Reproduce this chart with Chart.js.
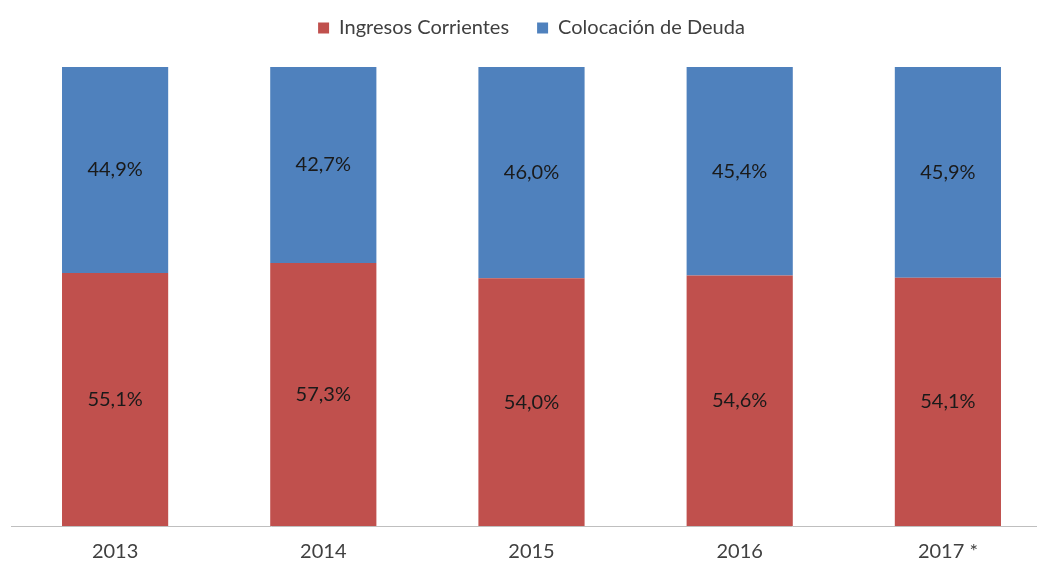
<!DOCTYPE html>
<html lang="es">
<head>
  <meta charset="UTF-8" />
  <title>Ingresos Corrientes vs Colocación de Deuda</title>
  <script src="https://cdn.jsdelivr.net/npm/chart.js"></script>
  <style>
    html, body {
      margin: 0;
      padding: 0;
      background: #fff;
      overflow: hidden;
    }
    .chart-wrap {
      width: 1052px;
      height: 567px;
      position: relative;
    }
  </style>
</head>
<body>
  <div class="chart-wrap">
    <canvas id="chart"></canvas>
  </div>

  <script>
    const years = ['2013', '2014', '2015', '2016', '2017 *'];
    const ingresos = [55.1, 57.3, 54.0, 54.6, 54.1];
    const deuda = [44.9, 42.7, 46.0, 45.4, 45.9];

    const FONT = 'Lato, "Open Sans", sans-serif';

    // draws the percentage in the middle of every bar segment
    const segmentLabels = {
      id: 'segmentLabels',
      afterDatasetsDraw(chart) {
        const ctx = chart.ctx;
        ctx.save();
        ctx.font = '20px ' + FONT;
        ctx.fillStyle = '#1a1a1a';
        ctx.textAlign = 'center';
        ctx.textBaseline = 'middle';
        chart.data.datasets.forEach((ds, i) => {
          chart.getDatasetMeta(i).data.forEach((bar, j) => {
            const mid = (bar.y + bar.base) / 2;
            const txt = ds.data[j].toFixed(1).replace('.', ',') + '%';
            ctx.fillText(txt, bar.x, mid);
          });
        });
        ctx.restore();
      }
    };

    // give the legend a fixed block height so the bars start lower
    const legendSpace = {
      id: 'legendSpace',
      beforeInit(chart) {
        const fit = chart.legend.fit;
        chart.legend.fit = function () {
          fit.bind(this)();
          this.height = 77;
        };
      }
    };

    new Chart(document.getElementById('chart'), {
      type: 'bar',
      data: {
        labels: years,
        datasets: [
          {
            label: 'Ingresos Corrientes',
            data: ingresos,
            backgroundColor: '#C0504D'
          },
          {
            label: 'Colocación de Deuda',
            data: deuda,
            backgroundColor: '#4F81BD'
          }
        ]
      },
      options: {
        responsive: true,
        maintainAspectRatio: false,
        animation: false,
        layout: {
          padding: { left: 11, right: 0, top: -10, bottom: -3 }
        },
        datasets: {
          bar: {
            categoryPercentage: 1,
            barPercentage: 0.51
          }
        },
        plugins: {
          legend: {
            position: 'top',
            labels: {
              boxWidth: 11,
              boxHeight: 11,
              color: '#404040',
              padding: 28,
              font: { family: FONT, size: 20 }
            }
          },
          tooltip: { enabled: false }
        },
        scales: {
          x: {
            stacked: true,
            grid: { display: false },
            border: { color: '#bfbfbf', width: 1 },
            ticks: {
              color: '#404040',
              padding: 6,
              font: { family: FONT, size: 20 }
            }
          },
          y: {
            stacked: true,
            display: false,
            min: 0,
            max: 100
          }
        }
      },
      plugins: [segmentLabels, legendSpace]
    });
  </script>
</body>
</html>
